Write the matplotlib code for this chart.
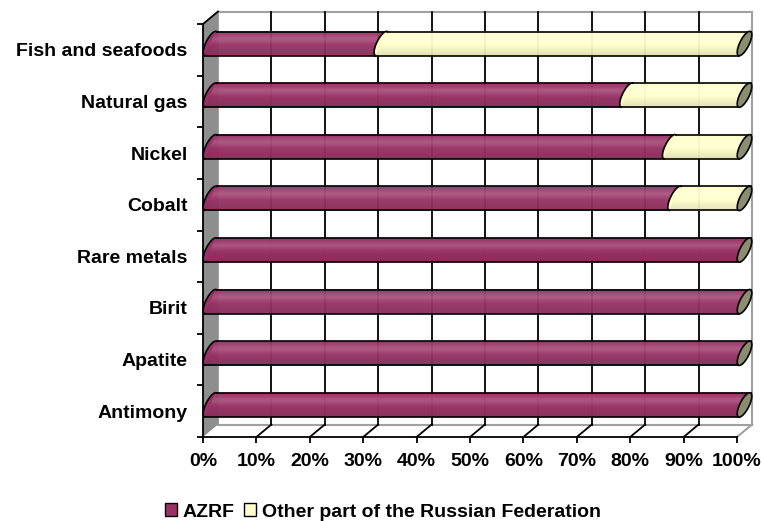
import numpy as np
import matplotlib
matplotlib.use("Agg")
import matplotlib.pyplot as plt
from matplotlib.patches import Polygon, Patch

plt.rcParams['font.family'] = ['Liberation Sans', 'DejaVu Sans']
plt.rcParams['font.weight'] = 'bold'

# --- data (bottom to top) --- #
categories = ["Antimony", "Apatite", "Birit", "Rare metals",
              "Cobalt", "Nickel", "Natural gas", "Fish and seafoods"]
azrf = [100, 100, 100, 100, 87, 86, 78, 32]
other = [100 - v for v in azrf]
series_names = ["AZRF", "Other part of the Russian Federation"]

MAGENTA = "#993366"
YELLOW = "#FFFFCC"
CAP = "#8C8C70"
FS = 14

W, H = 763, 521
fig = plt.figure(figsize=(W / 100, H / 100), dpi=100)
ax = fig.add_axes([203 / W, (H - 437) / H, 534 / W, 413 / H])
ax.set_xlim(0, 100)
ax.set_ylim(-0.5, len(categories) - 0.5)

# pixel -> data scale
SX = 534 / 100.0
SY = 413 / len(categories)
DX, DY = 15 / SX, 12.5 / SY   # 3d depth


def shade(c, f):
    c = np.array(matplotlib.colors.to_rgb(c))
    if f > 0:
        return tuple(c + (1 - c) * f)
    return tuple(c * (1 + f))


# --- walls --- #
top = len(categories) - 0.5
ax.add_patch(Polygon([(DX, -0.5 + DY), (100 + DX, -0.5 + DY), (100 + DX, top + DY), (DX, top + DY)],
                     closed=True, fc="white", ec="#A0A0A0", lw=1.5, clip_on=False, zorder=0))
ax.add_patch(Polygon([(0, -0.5), (DX, -0.5 + DY), (DX, top + DY), (0, top)],
                     closed=True, fc="#8E8E8E", ec="none", clip_on=False, zorder=1))
ax.plot([100, 100 + DX], [-0.5, -0.5 + DY], color="#A0A0A0", lw=1.5, clip_on=False, zorder=1)
ax.plot([0, DX], [top, top + DY], color="black", lw=1.3, clip_on=False, zorder=2)
for p in range(10, 100, 10):
    ax.plot([p + DX, p + DX], [-0.5 + DY, top + DY], color="black", lw=1.3, clip_on=False, zorder=1)
    ax.plot([p, p + DX], [-0.5, -0.5 + DY], color="black", lw=1.3, clip_on=False, zorder=1)


# --- cylinders --- #
def ell(cx, cy, phi):
    # tilted cap ellipse, offsets in px
    u = np.array([6, 12]) / 13.4
    v = np.array([-12, 6]) / 13.4
    pts = np.outer(13.4 * np.cos(phi), u) + np.outer(4.6 * np.sin(phi), v)
    return np.column_stack([cx + pts[:, 0] / SX, cy + pts[:, 1] / SY])


def profile(t):
    # light from above: highlight in upper part, darker toward bottom
    return 0.16 * np.exp(-((t - 5) / 4.0) ** 2) - 0.12 * np.clip(-t / 12.0, 0, 1)


def segment(x0, x1, yc, color, z):
    full = np.linspace(0, 2 * np.pi, 80)
    half = np.linspace(0, np.pi, 40)
    ax.add_patch(Polygon(ell(x0, yc, full), closed=True, fc=color, ec="none", zorder=z, clip_on=False))
    ax.plot(*ell(x0, yc, half).T, color="black", lw=1.2, zorder=z + 0.5, clip_on=False)
    edges = np.linspace(-12, 12, 25)
    for t1, t2 in zip(edges[:-1], edges[1:]):
        c = shade(color, profile((t1 + t2) / 2))
        poly = [(x0 + t1 / 2 / SX, yc + t1 / SY), (x1 + t1 / 2 / SX, yc + t1 / SY),
                (x1 + t2 / 2 / SX, yc + t2 / SY), (x0 + t2 / 2 / SX, yc + t2 / SY)]
        ax.add_patch(Polygon(poly, closed=True, fc=c, ec=c, lw=0.4, zorder=z + 0.2, clip_on=False))
    for t in (-12, 12):
        ax.plot([x0 + t / 2 / SX, x1 + t / 2 / SX], [yc + t / SY, yc + t / SY],
                color="black", lw=1.2, zorder=z + 0.6, clip_on=False)


for i, cat in enumerate(categories):
    yc = i + 6.3 / SY
    off = 7.5 / SX
    segment(off, azrf[i] + off, yc, MAGENTA, 3)
    if other[i] > 0:
        segment(azrf[i] + off, azrf[i] + other[i] + off, yc, YELLOW, 4)
    end = azrf[i] + other[i] + off
    ax.add_patch(Polygon(ell(end, yc, np.linspace(0, 2 * np.pi, 80)), closed=True,
                         fc=CAP, ec="black", lw=1.2, zorder=6, clip_on=False))

# --- axes --- #
for s in ("top", "right"):
    ax.spines[s].set_visible(False)
for s in ("left", "bottom"):
    ax.spines[s].set_linewidth(1.3)
    ax.spines[s].set_zorder(7)

ax.set_xticks(range(0, 101, 10))
ax.set_xticklabels([f"{p}%" for p in range(0, 101, 10)], fontsize=FS, fontweight="bold")
ax.tick_params(axis="x", length=4.5, width=1.3, pad=7)

ax.set_yticks(range(len(categories)))
ax.set_yticklabels(categories, fontsize=FS, fontweight="bold")
ax.set_yticks(np.arange(-0.5, len(categories), 1), minor=True)
ax.tick_params(axis="y", which="major", length=0, pad=11)
ax.tick_params(axis="y", which="minor", length=4.5, width=1.3)

handles = [Patch(fc=MAGENTA, ec="black", lw=1.0), Patch(fc=YELLOW, ec="black", lw=1.0)]
fig.legend(handles, series_names, loc="center", bbox_to_anchor=(383 / W, 1 - 512 / H),
           ncol=2, frameon=False, handlelength=0.6, handleheight=0.6,
           handletextpad=0.3, columnspacing=0.5, prop={"size": FS, "weight": "bold"})

fig.savefig("out.png", dpi=100)
